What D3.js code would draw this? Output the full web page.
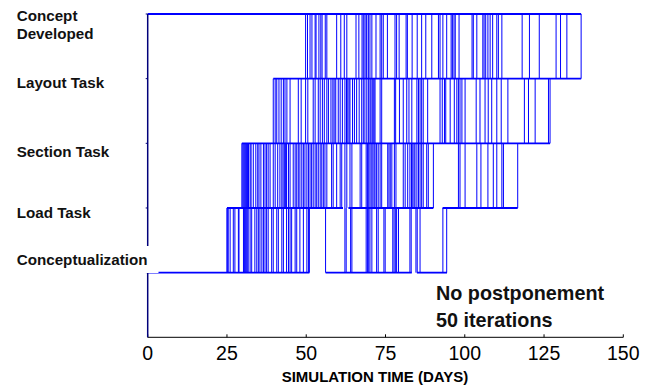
<!DOCTYPE html>
<html>
<head>
<meta charset="utf-8">
<script src="https://cdn.jsdelivr.net/npm/d3@7/dist/d3.min.js"></script>
<style>
  html, body { margin: 0; padding: 0; background: #fff; }
  svg { display: block; font-family: "Liberation Sans", Arial, sans-serif; }
</style>
</head>
<body>
<svg id="chart" width="662" height="385"></svg>
<script>
// ---- data ----
const levels = ["Conceptualization", "Load Task", "Section Task", "Layout Task", "Concept Developed"]; // levels 1..5
const xTicks = [0, 25, 50, 75, 100, 125, 150];
const annotation = ["No postponement", "50 iterations"];
const xTitle = "SIMULATION TIME (DAYS)";

// transition times (days) : vertical segments inside each band
const loadVerticals = [25.0, 25.1, 25.4, 26.0, 27.0, 27.5, 28.6, 28.8, 30.2, 30.5, 30.8, 31.1, 31.4, 31.7, 32.3, 32.8,
  33.8, 34.4, 34.9, 35.4, 36.0, 36.5, 37.0, 37.5, 38.0, 39.1, 39.6, 40.7, 41.2, 42.3, 42.8, 43.8, 44.4, 44.9, 45.4,
  46.5, 47.0, 48.0, 49.1, 50.2, 50.7, 51.0, 56.1, 62.2, 62.6, 64.0, 64.4, 68.9, 69.3, 69.7, 70.1, 70.7, 72.2, 72.7,
  74.5, 74.9, 77.3, 77.7, 78.1, 78.5, 79.1, 82.7, 83.1, 84.6, 85.0, 85.9, 93.1, 94.3];
const sectionVerticals = [29.7, 30.0, 30.3, 30.6, 30.9, 31.2, 31.5, 31.8, 32.3, 32.6, 33.3, 34.1, 34.7, 35.1, 35.7, 36.5,
  37.0, 37.5, 38.0, 38.6, 39.6, 40.2, 41.0, 41.7, 42.3, 42.7, 43.1, 43.5, 43.8, 44.4, 44.9, 45.9, 46.5, 47.0, 47.5,
  48.0, 48.6, 49.1, 49.6, 50.2, 50.7, 51.2, 51.7, 52.2, 52.8, 53.3, 53.8, 54.4, 54.9, 55.4, 55.9, 56.5, 58.0, 58.5,
  59.6, 60.7, 61.2, 62.2, 62.8, 63.8, 64.4, 67.0, 67.5, 68.9, 69.3, 69.7, 70.1, 70.5, 71.0, 71.4, 71.7, 72.2, 72.7,
  73.3, 73.8, 75.7, 76.1, 76.5, 77.0, 77.8, 78.3, 80.6, 81.2, 82.0, 82.7, 83.2, 83.6, 84.0, 84.3, 84.9, 85.4, 85.9,
  86.4, 86.9, 88.0, 88.5, 90.1, 98.0, 98.5, 100.1, 103.8, 105.1, 107.3, 109.0, 110.1, 111.7, 112.2, 116.7];
const layoutVerticals = [39.6, 40.2, 40.7, 41.4, 42.1, 42.8, 43.3, 43.9, 44.9, 47.5, 48.4, 49.8, 50.5, 52.2, 52.8, 53.8,
  54.4, 55.1, 55.7, 56.5, 57.0, 57.8, 58.4, 58.8, 59.3, 60.1, 60.7, 61.4, 62.2, 62.7, 63.1, 63.5, 63.8, 64.6, 65.2,
  65.9, 66.7, 67.5, 68.0, 68.5, 69.1, 69.6, 70.1, 70.4, 70.8, 71.1, 71.4, 71.7, 73.3, 73.8, 77.8, 78.2, 79.4, 80.6,
  81.7, 82.4, 83.3, 84.9, 85.4, 85.9, 86.4, 86.9, 88.3, 92.2, 92.9, 93.6, 94.0, 95.4, 96.7, 97.5, 98.0, 98.5, 99.1,
  100.1, 103.6, 104.8, 106.4, 107.4, 108.5, 110.1, 111.5, 113.6, 118.8, 120.1, 122.2, 126.4, 126.9];
const conceptVerticals = [49.8, 50.4, 51.2, 51.8, 52.8, 53.1, 54.0, 54.6, 55.0, 56.0, 56.5, 59.6, 60.9, 62.0, 62.8, 65.7,
  66.6, 67.6, 68.0, 68.5, 68.9, 69.1, 69.6, 70.1, 70.7, 72.0, 73.3, 73.8, 74.3, 75.6, 78.0, 78.5, 79.3, 81.5, 81.9,
  83.4, 85.0, 86.4, 87.7, 89.6, 91.7, 92.2, 93.1, 94.3, 95.7, 96.1, 96.6, 97.0, 98.2, 102.3, 102.7, 103.8, 105.7,
  106.1, 106.6, 107.3, 108.0, 108.8, 110.1, 110.6, 111.7, 118.1, 120.4, 123.5, 128.8, 130.2, 132.2, 136.7];

// horizontal segments (days) at each level
const conceptualizationSegs = [[0, 51.0], [56.1, 83.3], [84.9, 94.4]];
const loadSegs = [[25.0, 61.6], [63.3, 90.1], [93.0, 116.7]];
const sectionSegs = [[29.7, 126.9]];
const layoutSegs = [[39.6, 136.7]];
const conceptSegs = [[0, 136.7]];

// ---- build ----
const bands = [
  { lo: 1, hi: 2, xs: loadVerticals },
  { lo: 2, hi: 3, xs: sectionVerticals },
  { lo: 3, hi: 4, xs: layoutVerticals },
  { lo: 4, hi: 5, xs: conceptVerticals }
];
const levelSegs = [
  { level: 1, segs: conceptualizationSegs },
  { level: 2, segs: loadSegs },
  { level: 3, segs: sectionSegs },
  { level: 4, segs: layoutSegs },
  { level: 5, segs: conceptSegs }
];

const svg = d3.select("#chart");
const x = d3.scaleLinear().domain([0, 150]).range([147.7, 623.3]);
const y = d3.scaleLinear().domain([0, 5]).range([337.3, 14]);
const BLUE = "#0000ff";

// vertical transitions
const vData = bands.flatMap(b => b.xs.map(t => ({ t, lo: b.lo, hi: b.hi })));
svg.append("g").selectAll("line").data(vData).join("line")
  .attr("x1", d => x(d.t)).attr("x2", d => x(d.t))
  .attr("y1", d => y(d.lo)).attr("y2", d => y(d.hi))
  .attr("stroke", BLUE).attr("stroke-width", 1);

// horizontal segments
const hData = levelSegs.flatMap(l => l.segs.map(s => ({ level: l.level, a: s[0], b: s[1] })));
svg.append("g").selectAll("line").data(hData).join("line")
  .attr("x1", d => x(d.a)).attr("x2", d => x(d.b))
  .attr("y1", d => y(d.level)).attr("y2", d => y(d.level))
  .attr("stroke", BLUE).attr("stroke-width", 1.8);

// x axis
const xg = svg.append("g");
xg.append("line").attr("x1", x(0)).attr("x2", x(150)).attr("y1", y(0)).attr("y2", y(0))
  .attr("stroke", "#000").attr("stroke-width", 1);
xg.selectAll("line.tick").data(xTicks).join("line").attr("class", "tick")
  .attr("x1", d => x(d)).attr("x2", d => x(d)).attr("y1", y(0)).attr("y2", y(0) - 3)
  .attr("stroke", "#000").attr("stroke-width", 1);
xg.selectAll("text").data(xTicks).join("text")
  .attr("x", d => x(d)).attr("y", 360).attr("text-anchor", "middle")
  .attr("font-size", 19.5).attr("fill", "#000").text(d => d);
svg.append("text").attr("x", 375).attr("y", 381.5).attr("text-anchor", "middle")
  .attr("font-size", 15).attr("font-weight", "bold").attr("fill", "#000").text(xTitle);

// y axis
const yg = svg.append("g");
yg.append("line").attr("x1", x(0)).attr("x2", x(0)).attr("y1", y(0)).attr("y2", y(5))
  .attr("stroke", "#00007a").attr("stroke-width", 1.5);
yg.selectAll("line.tick").data([1, 2, 3, 4, 5]).join("line").attr("class", "tick")
  .attr("x1", x(0) - 2).attr("x2", x(0)).attr("y1", d => y(d)).attr("y2", d => y(d))
  .attr("stroke", "#00007a").attr("stroke-width", 1);

// level labels
const labelPos = [
  { lines: ["Conceptualization"], base: [265] },
  { lines: ["Load Task"], base: [218.3] },
  { lines: ["Section Task"], base: [156.7] },
  { lines: ["Layout Task"], base: [88.3] },
  { lines: ["Concept", "Developed"], base: [21, 38.5] }
];
levels.forEach((name, i) => {
  const lp = labelPos[i];
  const g = svg.append("g");
  const t = g.append("text").attr("font-size", 15.2).attr("font-weight", "bold").attr("fill", "#111");
  lp.lines.forEach((ln, j) => {
    t.append("tspan").attr("x", 16.7).attr("y", lp.base[j]).text(ln);
  });
  const bb = t.node().getBBox();
  g.insert("rect", "text").attr("x", bb.x - 3).attr("y", bb.y - 5)
    .attr("width", bb.width + 14).attr("height", bb.height + 10).attr("fill", "#fff");
});

// annotation
svg.append("text").attr("x", 436).attr("y", 300).attr("font-size", 19.8).attr("font-weight", "bold")
  .attr("fill", "#111").text(annotation[0]);
svg.append("text").attr("x", 436).attr("y", 326.7).attr("font-size", 19.8).attr("font-weight", "bold")
  .attr("fill", "#111").text(annotation[1]);
</script>
</body>
</html>
